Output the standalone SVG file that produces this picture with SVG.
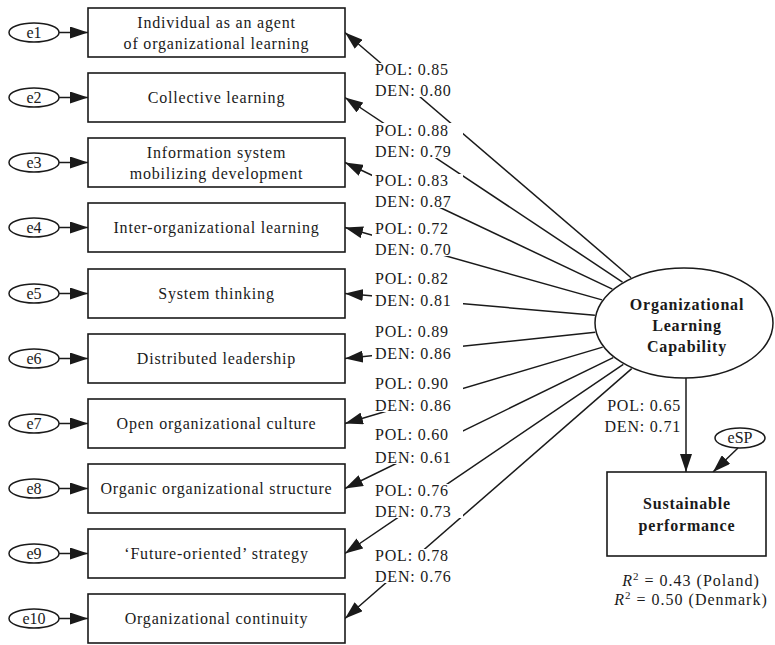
<svg xmlns="http://www.w3.org/2000/svg" width="775" height="645" viewBox="0 0 775 645">
<defs>
<marker id="ah" markerUnits="userSpaceOnUse" markerWidth="18" markerHeight="12" refX="18" refY="6" orient="auto">
<path d="M0,0 L18,6 L0,12 z" fill="#1a1a1a"/>
</marker>
<style>
text{font-family:"Liberation Serif","Times New Roman",serif;font-size:16px;fill:#1a1a1a;letter-spacing:0.8px}
.c{text-anchor:middle}
.b{font-weight:bold}
.box{fill:#fff;stroke:#1a1a1a;stroke-width:1.6}
.ell{fill:#fff;stroke:#1a1a1a;stroke-width:1.5}
.ln{fill:none;stroke:#1a1a1a;stroke-width:1.5;marker-end:url(#ah)}
.bg{fill:#fff}
</style>
</defs>
<rect width="775" height="645" fill="#fff"/>

<g id="connectors">
<path class="ln" d="M59,32.5 H88"/>
<path class="ln" d="M59,97.5 H88"/>
<path class="ln" d="M59,162.5 H88"/>
<path class="ln" d="M59,227.5 H88"/>
<path class="ln" d="M59,293.5 H88"/>
<path class="ln" d="M59,358.5 H88"/>
<path class="ln" d="M59,423.5 H88"/>
<path class="ln" d="M59,488.5 H88"/>
<path class="ln" d="M59,553.5 H88"/>
<path class="ln" d="M59,618.5 H88"/>
<path class="ln" d="M631.1,277.7 L345,32.5"/>
<path class="ln" d="M622.5,282.1 L345,97.5"/>
<path class="ln" d="M612.4,289.1 L345,162.5"/>
<path class="ln" d="M602,299.9 L345,227.5"/>
<path class="ln" d="M594.9,315.2 L345,293.5"/>
<path class="ln" d="M595.3,332.3 L345,358.5"/>
<path class="ln" d="M602.7,347.1 L345,423.5"/>
<path class="ln" d="M613.2,357.6 L345,488.5"/>
<path class="ln" d="M623.3,364.3 L345,553.5"/>
<path class="ln" d="M631.7,368.6 L345,618.5"/>
<path class="ln" d="M686,378 V472"/>
<path class="ln" d="M738,448 L713,472"/>
</g>

<g id="loadings">
<rect class="bg" x="372" y="63" width="91" height="34"/>
<text x="375" y="75">POL: 0.85</text><text x="375" y="96">DEN: 0.80</text>
<rect class="bg" x="372" y="123" width="91" height="35"/>
<text x="375" y="136">POL: 0.88</text><text x="375" y="157">DEN: 0.79</text>
<rect class="bg" x="372" y="174" width="91" height="34"/>
<text x="375" y="186">POL: 0.83</text><text x="375" y="207">DEN: 0.87</text>
<rect class="bg" x="372" y="222" width="91" height="34"/>
<text x="375" y="234">POL: 0.72</text><text x="375" y="255">DEN: 0.70</text>
<rect class="bg" x="372" y="272" width="91" height="35"/>
<text x="375" y="284">POL: 0.82</text><text x="375" y="306">DEN: 0.81</text>
<rect class="bg" x="372" y="325" width="91" height="35"/>
<text x="375" y="337">POL: 0.89</text><text x="375" y="359">DEN: 0.86</text>
<rect class="bg" x="372" y="377" width="91" height="35"/>
<text x="375" y="389">POL: 0.90</text><text x="375" y="411">DEN: 0.86</text>
<rect class="bg" x="372" y="428" width="91" height="36"/>
<text x="375" y="440">POL: 0.60</text><text x="375" y="463">DEN: 0.61</text>
<rect class="bg" x="372" y="484" width="91" height="34"/>
<text x="375" y="496">POL: 0.76</text><text x="375" y="517">DEN: 0.73</text>
<rect class="bg" x="372" y="549" width="91" height="34"/>
<text x="375" y="561">POL: 0.78</text><text x="375" y="582">DEN: 0.76</text>
<text x="681" y="411" text-anchor="end">POL: 0.65</text>
<text x="681" y="432" text-anchor="end">DEN: 0.71</text>
</g>

<g id="e1"><ellipse class="ell" cx="34" cy="32.5" rx="25" ry="9.5"/><text class="c" x="34" y="38" style="letter-spacing:0">e1</text></g>
<g id="e2"><ellipse class="ell" cx="34" cy="97.5" rx="25" ry="9.5"/><text class="c" x="34" y="103" style="letter-spacing:0">e2</text></g>
<g id="e3"><ellipse class="ell" cx="34" cy="162.5" rx="25" ry="9.5"/><text class="c" x="34" y="168" style="letter-spacing:0">e3</text></g>
<g id="e4"><ellipse class="ell" cx="34" cy="227.5" rx="25" ry="9.5"/><text class="c" x="34" y="233" style="letter-spacing:0">e4</text></g>
<g id="e5"><ellipse class="ell" cx="34" cy="293.5" rx="25" ry="9.5"/><text class="c" x="34" y="299" style="letter-spacing:0">e5</text></g>
<g id="e6"><ellipse class="ell" cx="34" cy="358.5" rx="25" ry="9.5"/><text class="c" x="34" y="364" style="letter-spacing:0">e6</text></g>
<g id="e7"><ellipse class="ell" cx="34" cy="423.5" rx="25" ry="9.5"/><text class="c" x="34" y="429" style="letter-spacing:0">e7</text></g>
<g id="e8"><ellipse class="ell" cx="34" cy="488.5" rx="25" ry="9.5"/><text class="c" x="34" y="494" style="letter-spacing:0">e8</text></g>
<g id="e9"><ellipse class="ell" cx="34" cy="553.5" rx="25" ry="9.5"/><text class="c" x="34" y="559" style="letter-spacing:0">e9</text></g>
<g id="e10"><ellipse class="ell" cx="34" cy="618.5" rx="25" ry="9.5"/><text class="c" x="34" y="624" style="letter-spacing:0">e10</text></g>

<g id="v1"><rect class="box" x="88" y="8" width="257" height="49"/><text class="c" x="216.5" y="27.5">Individual as an agent</text><text class="c" x="216.5" y="48.5">of organizational learning</text></g>
<g id="v2"><rect class="box" x="88" y="73" width="257" height="49"/><text class="c" x="216.5" y="103">Collective learning</text></g>
<g id="v3"><rect class="box" x="88" y="138" width="257" height="49"/><text class="c" x="216.5" y="157.5">Information system</text><text class="c" x="216.5" y="178.5">mobilizing development</text></g>
<g id="v4"><rect class="box" x="88" y="203" width="257" height="49"/><text class="c" x="216.5" y="233">Inter-organizational learning</text></g>
<g id="v5"><rect class="box" x="88" y="269" width="257" height="49"/><text class="c" x="216.5" y="299">System thinking</text></g>
<g id="v6"><rect class="box" x="88" y="334" width="257" height="49"/><text class="c" x="216.5" y="364">Distributed leadership</text></g>
<g id="v7"><rect class="box" x="88" y="399" width="257" height="49"/><text class="c" x="216.5" y="429">Open organizational culture</text></g>
<g id="v8"><rect class="box" x="88" y="464" width="257" height="49"/><text class="c" x="216.5" y="494">Organic organizational structure</text></g>
<g id="v9"><rect class="box" x="88" y="529" width="257" height="49"/><text class="c" x="216.5" y="559">‘Future-oriented’ strategy</text></g>
<g id="v10"><rect class="box" x="88" y="594" width="257" height="49"/><text class="c" x="216.5" y="624">Organizational continuity</text></g>

<g id="olc"><ellipse class="ell" cx="684" cy="323" rx="89" ry="55"/>
<text class="c b" x="687" y="310">Organizational</text>
<text class="c b" x="687" y="331">Learning</text>
<text class="c b" x="687" y="352">Capability</text></g>

<g id="esp"><ellipse class="ell" cx="740" cy="438" rx="25" ry="10"/><text class="c" x="740" y="443" style="letter-spacing:0">eSP</text></g>

<g id="sp"><rect class="box" x="607" y="472" width="159" height="84"/>
<text class="c b" x="687" y="509">Sustainable</text>
<text class="c b" x="687" y="531">performance</text></g>

<g id="r2">
<text class="c" x="691" y="586" style="letter-spacing:1px"><tspan font-style="italic">R</tspan><tspan dy="-6" font-size="11">2</tspan><tspan dy="6">  = 0.43 (Poland)</tspan></text>
<text class="c" x="691" y="605" style="letter-spacing:1px"><tspan font-style="italic">R</tspan><tspan dy="-6" font-size="11">2</tspan><tspan dy="6"> = 0.50 (Denmark)</tspan></text>
</g>
</svg>
